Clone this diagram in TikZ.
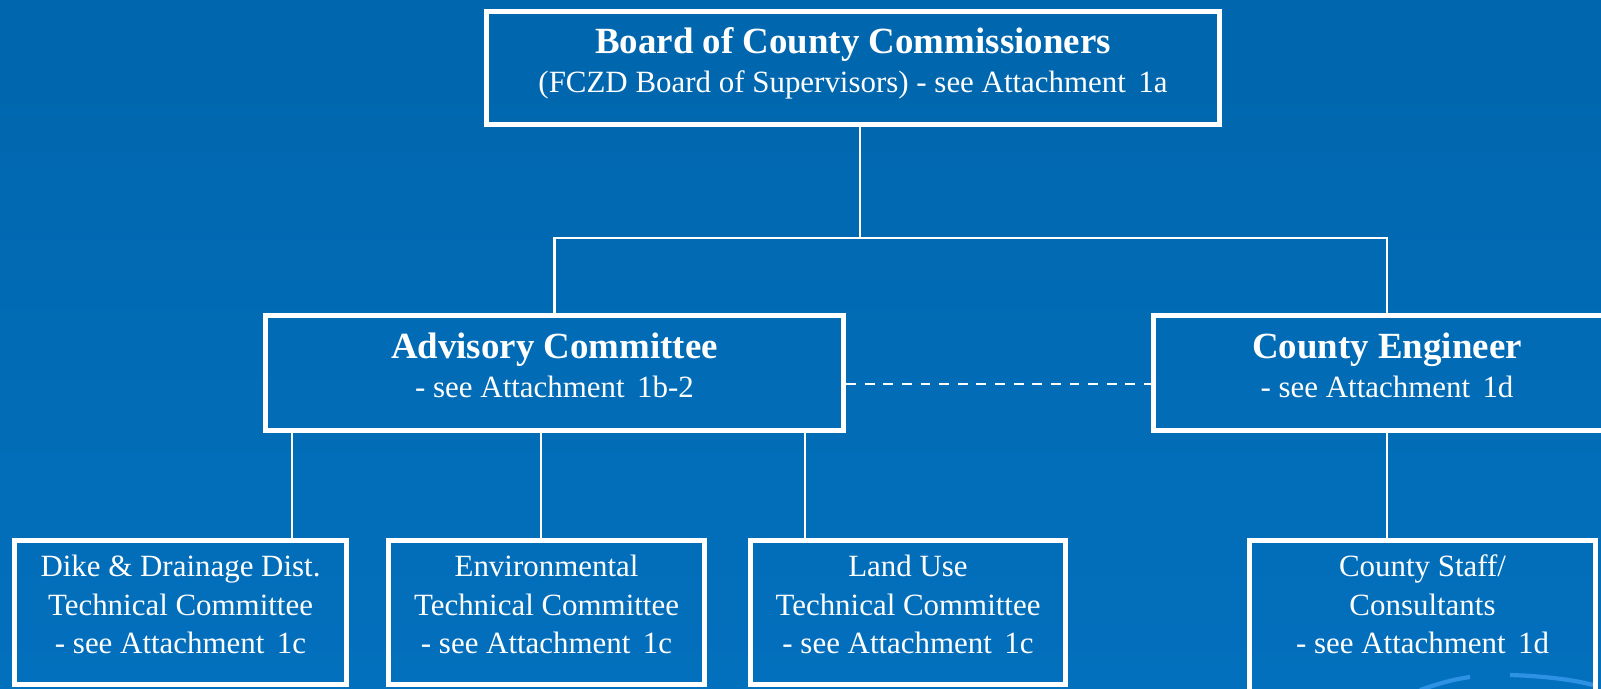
\documentclass[tikz,border=0pt]{standalone}
\usepackage{fontspec}
\setmainfont{Liberation Serif}

\definecolor{deskblue}{RGB}{0,102,173}
\definecolor{deskbluelow}{RGB}{3,112,189}
\definecolor{swoosh}{RGB}{45,145,228}

\newcommand{\unithead}[1]{{\fontsize{10.5}{10.95}\selectfont\bfseries #1}}
\newcommand{\seeatt}[1]{- see Attachment\hspace{.4em}#1}

\tikzset{
  unit/.style={draw=white, line width=1.45pt, text=white, align=center,
    inner sep=0pt, text depth=1.6mm, font=\fontsize{8.8}{10.95}\selectfont},
  link/.style={draw=white, line width=.8pt},
}

\begin{document}
\begin{tikzpicture}[x=.1mm,y=-.1mm]
  \useasboundingbox (0,0) rectangle (1601,688);
  \fill[top color=deskblue, bottom color=deskbluelow] (0,0) rectangle (1601,688);

  % faint swoosh at the foot of the page
  \draw[swoosh, line width=1.2pt] (1420,690) .. controls (1440,683) and (1455,679) .. (1470,677);
  \draw[swoosh, line width=1.2pt] (1510,675) .. controls (1545,676) and (1575,680) .. (1593,685);

  \node[unit, minimum width=7.33cm, minimum height=1.13cm] (bcc) at (853,68)
    {\unithead{Board of County Commissioners}\\(FCZD Board of Supervisors) \seeatt{1a}};

  \node[unit, minimum width=5.78cm, minimum height=1.15cm] (adv) at (554.5,373)
    {\unithead{Advisory Committee}\\\seeatt{1b-2}};
  \node[unit, minimum width=4.67cm, minimum height=1.15cm] (ce) at (1387,373)
    {\unithead{County Engineer}\\\seeatt{1d}};

  \node[unit, minimum width=3.32cm, minimum height=1.44cm] (dike) at (180.5,612.5)
    {Dike \& Drainage Dist.\\Technical Committee\\\seeatt{1c}};
  \node[unit, minimum width=3.16cm, minimum height=1.44cm] (env) at (546.5,612.5)
    {Environmental\\Technical Committee\\\seeatt{1c}};
  \node[unit, minimum width=3.15cm, minimum height=1.44cm] (land) at (908,612.5)
    {Land Use\\Technical Committee\\\seeatt{1c}};
  \node[unit, minimum width=3.46cm, minimum height=1.74cm, text depth=4.6mm] (staff) at (1422.5,627.5)
    {County Staff/\\Consultants\\\seeatt{1d}};

  % reporting lines
  \coordinate (split) at (860,238);
  \draw[link] (bcc.south -| split) -- (split);
  \draw[link] (adv.north) |- (split) -| (ce.north);
  \draw[link, dash pattern=on 2.8pt off 2.5pt] ([yshift=-1.1mm]adv.east) -- ([yshift=-1.1mm]ce.west);

  \foreach \x/\sub in {292/dike,541/env,805/land}
    \draw[link] (\x,0 |- adv.south) -- (\x,0 |- \sub.north);
  \draw[link] (ce.south) -- (ce.south |- staff.north);
\end{tikzpicture}
\end{document}
